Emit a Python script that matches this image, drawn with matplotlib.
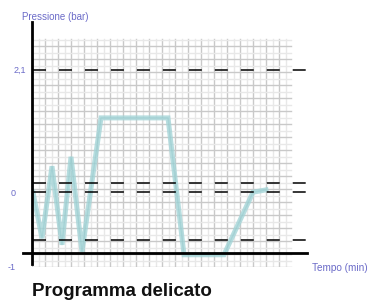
import numpy as np
import matplotlib
matplotlib.use("Agg")
import matplotlib.pyplot as plt

# pressure programme (time in arbitrary min units, pressure in bar)
tempo = [0.1, 1.0, 2.0, 3.0, 3.9, 5.0, 6.9, 13.6, 15.2, 19.2, 22.1, 23.4]
pressione = [0.03, -0.75, 0.47, -0.86, 0.63, -0.98, 1.29, 1.29, -1.03, -1.03, 0.03, 0.07]

soglie = [2.1, 0.19, 0.03, -0.78]          # dashed reference levels
ytick_vals = [2.1, 0, -1]
ytick_labels = ["2,1", "0", "-1"]
ytick_offsets = [(-6, 0), (-16, 0), (-16, -15)]   # pixels

blue = "#6b6bc8"
font = ["Liberation Sans", "DejaVu Sans"]
plt.rcParams["font.family"] = font

fig = plt.figure(figsize=(3.7, 3.05), dpi=100)
ax = fig.add_axes([32 / 370, (305 - 267) / 305, (307 - 32) / 370, (267 - 22) / 305])
ax.set_xlim(0, 27.5)
ax.set_ylim((194 - 267) / 59, (194 - 22) / 59)
ax.axis("off")

# graph paper background
gx0, gx1 = 0, 25.9
gy0, gy1 = (194 - 267) / 59, (194 - 39) / 59
for i, x in enumerate(np.arange(gx0, gx1 + 0.01, 0.65)):
    c = "#c9c9c9" if i % 2 == 0 else "#e8e8e8"
    ax.plot([x, x], [gy0, gy1], color=c, lw=1.0, zorder=1)
for i, y in enumerate(np.arange(gy0, gy1 + 0.001, 6.5 / 59)):
    c = "#c9c9c9" if i % 2 == 0 else "#e8e8e8"
    ax.plot([gx0, gx1], [y, y], color=c, lw=1.0, zorder=1)

for s in soglie:
    ax.plot([0.1, 27.4], [s, s], color="black", lw=1.1, ls=(0, (8.5, 8.5)), zorder=3)

ax.plot(tempo, pressione, color="#a5d5d8", lw=3.6, alpha=0.8, solid_joinstyle="miter", zorder=2)
ax.plot(tempo, pressione, color="#8cc6c9", lw=1.0, alpha=0.4, zorder=2)

# axes lines
ax.plot([0, 0], [gy0 + 0.05, (194 - 22) / 59], color="black", lw=2.0, clip_on=False, zorder=4)
ax.plot([-0.9, 27.5], [-1, -1], color="black", lw=2.0, clip_on=False, zorder=4)

for v, lab, off in zip(ytick_vals, ytick_labels, ytick_offsets):
    ax.annotate(lab, xy=(0, v), xycoords="data", xytext=off, textcoords="offset pixels",
                ha="right", va="center", fontsize=6.5, color=blue)

fig.text(22 / 370, 1 - 17 / 305, "Pressione (bar)", fontsize=7, color=blue, va="center", ha="left")
fig.text(312 / 370, 1 - 268 / 305, "Tempo (min)", fontsize=7.2, color=blue, va="center", ha="left")
fig.text(32 / 370, 1 - 291 / 305, "Programma delicato", fontsize=13.5, fontweight="bold",
         color="#111111", va="center", ha="left")

fig.savefig("out.png", dpi=100)
